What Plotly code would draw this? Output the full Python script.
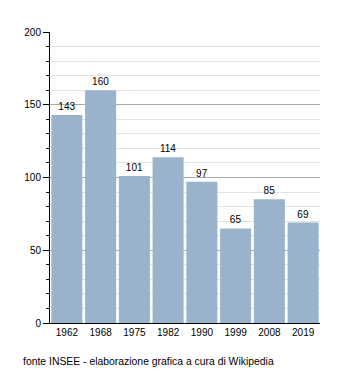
import plotly.graph_objects as go

years = ["1962", "1968", "1975", "1982", "1990", "1999", "2008", "2019"]
values = [143, 160, 101, 114, 97, 65, 85, 69]
y_ticks = [0, 50, 100, 150, 200]
source_note = "fonte INSEE - elaborazione grafica a cura di Wikipedia"

fig = go.Figure(go.Bar(
    x=years, y=values,
    text=[str(v) for v in values],
    textposition="outside",
    textfont=dict(size=10, color="black"),
    marker=dict(color="#99b3cc", line=dict(width=0)),
    cliponaxis=False,
))

fig.update_layout(
    width=350, height=373,
    margin=dict(l=50, r=30, t=32, b=50),
    paper_bgcolor="white", plot_bgcolor="white",
    font=dict(family="Liberation Sans, Arial, sans-serif", size=10, color="black"),
    bargap=0.08,
    showlegend=False,
    xaxis=dict(
        showline=True, linecolor="black", linewidth=1,
        ticks="", showgrid=False, tickfont=dict(size=10),
    ),
    yaxis=dict(
        range=[0, 200], tickvals=y_ticks,
        showline=True, linecolor="black", linewidth=1,
        ticks="outside", ticklen=6, tickcolor="black",
        showgrid=True, gridcolor="#aaaaaa", gridwidth=1,
        zeroline=False, tickfont=dict(size=10),
        minor=dict(dtick=10, showgrid=True, gridcolor="#e2e2e2",
                   ticks="outside", ticklen=3, tickcolor="black"),
    ),
    annotations=[dict(
        text=source_note, xref="paper", yref="paper",
        x=-29/270, y=-38/291, xanchor="left", yanchor="middle",
        showarrow=False, font=dict(size=10.4, color="black"),
    )],
)

fig.write_html("out.html")
